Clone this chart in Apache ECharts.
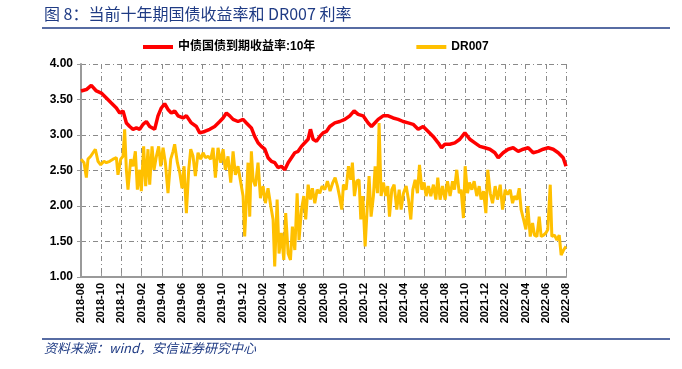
<!DOCTYPE html>
<html>
<head>
<meta charset="utf-8">
<script src="https://cdn.jsdelivr.net/npm/echarts@6/dist/echarts.min.js"></script>
<style>
html,body{margin:0;padding:0;background:#fff;}
#charts{width:682px;height:369px;}
</style>
</head>
<body>
<div id="charts"></div>
<script>
// 月份偏移(自2018-08起)
var startYear = 2018, startMonth = 8;

// 中债国债到期收益率:10年
var redX = [0.00,0.53,1.02,1.52,2.01,2.51,3.00,3.50,3.83,4.16,4.49,4.82,5.15,5.48,5.81,6.14,6.47,6.80,7.29,7.62,7.95,8.28,8.61,8.94,9.27,9.60,10.10,10.43,10.92,11.42,11.75,
	12.24,12.74,13.23,13.73,14.06,14.39,14.72,15.05,15.54,16.04,16.37,16.86,17.19,17.52,17.85,18.19,18.51,18.84,19.18,19.50,19.83,20.17,20.50,20.83,21.16,21.49,21.82,22.15,22.48,22.71,22.97,23.30,23.63,23.96,
	24.29,24.62,25.12,25.61,26.11,26.60,27.03,27.43,27.92,28.42,28.75,29.08,29.41,29.90,30.40,30.89,31.39,31.88,32.38,32.87,33.37,33.86,34.36,34.85,35.35,35.68,
	36.01,36.50,37.00,37.49,37.99,38.48,38.98,39.47,39.97,40.46,40.96,41.29,41.78,42.28,42.77,43.27,43.76,44.26,44.75,45.25,45.74,46.24,46.73,47.23,47.72,48.00];
var redY = [3.62,3.64,3.70,3.62,3.59,3.52,3.45,3.38,3.31,3.34,3.17,3.12,3.08,3.10,3.08,3.15,3.19,3.12,3.08,3.27,3.38,3.44,3.36,3.31,3.34,3.27,3.24,3.27,3.17,3.12,3.03,
	3.05,3.08,3.12,3.19,3.24,3.31,3.27,3.22,3.19,3.22,3.17,3.10,2.98,2.89,2.84,2.80,2.68,2.63,2.61,2.54,2.56,2.51,2.61,2.68,2.75,2.77,2.84,2.89,2.94,3.08,2.94,2.91,2.98,3.03,
	3.05,3.12,3.17,3.19,3.22,3.27,3.34,3.29,3.27,3.17,3.12,3.17,3.22,3.27,3.27,3.24,3.22,3.19,3.17,3.15,3.08,3.12,3.05,2.98,2.89,2.82,
	2.87,2.87,2.89,2.94,3.03,2.94,2.89,2.84,2.82,2.80,2.75,2.68,2.75,2.80,2.82,2.77,2.80,2.82,2.75,2.77,2.80,2.82,2.80,2.75,2.68,2.56];

// DR007
var drX = [0.00,0.30,0.53,0.69,0.96,1.19,1.42,1.68,1.95,2.28,2.51,2.84,3.17,3.50,3.66,3.93,4.16,4.32,4.49,4.65,4.92,5.15,5.38,5.58,5.81,5.97,6.20,6.40,6.63,6.80,7.03,7.23,7.46,7.69,7.89,8.12,8.35,8.61,8.88,9.11,9.27,9.54,9.77,
	10.00,10.20,10.43,10.66,10.86,11.09,11.32,11.58,11.85,12.08,12.31,12.57,12.84,13.07,13.30,13.56,13.83,14.06,14.29,14.55,14.82,15.05,15.28,15.54,15.81,16.04,16.20,16.37,16.53,16.70,16.86,17.03,17.26,17.52,17.76,
	18.02,18.25,18.51,18.78,19.01,19.17,19.41,19.60,19.83,20.07,20.26,20.50,20.73,20.92,21.16,21.39,21.58,21.82,22.05,22.24,22.48,22.71,22.90,23.14,23.37,23.63,23.86,24.13,
	24.39,24.65,24.92,25.15,25.38,25.58,25.81,25.97,26.24,26.47,26.70,26.86,27.06,27.29,27.52,27.69,27.89,28.12,28.28,28.51,28.71,28.94,29.11,29.34,29.50,29.70,29.93,
	30.17,30.36,30.53,30.76,30.99,31.25,31.49,31.68,31.91,32.18,32.41,32.64,32.84,33.07,33.30,33.50,33.73,33.96,34.16,34.39,34.62,34.88,35.12,35.31,35.54,35.78,
	36.04,36.27,36.53,36.77,36.96,37.19,37.43,37.62,37.85,38.02,38.25,38.45,38.68,38.91,39.17,39.41,39.60,39.84,40.07,40.26,40.50,40.73,40.99,41.22,41.49,41.72,41.98,
	42.21,42.48,42.71,42.90,43.14,43.37,43.56,43.80,44.03,44.22,44.46,44.69,44.88,45.12,45.35,45.54,45.78,46.01,46.20,46.44,46.60,46.86,47.10,47.33,47.52,47.76,48.00];
var drY = [2.66,2.61,2.40,2.66,2.70,2.75,2.80,2.63,2.58,2.63,2.61,2.63,2.66,2.68,2.44,2.66,2.70,3.08,2.51,2.23,2.66,2.56,2.77,2.23,2.51,2.21,2.84,2.28,2.80,2.30,2.84,2.51,2.70,2.84,2.56,2.82,2.61,2.18,2.66,2.77,2.87,2.61,2.47,
	2.25,2.56,1.90,2.51,2.80,2.70,2.42,2.75,2.66,2.75,2.68,2.70,2.66,2.82,2.40,2.82,2.61,2.80,2.51,2.70,2.33,2.77,2.44,2.56,2.33,2.14,1.57,2.09,2.61,1.85,2.77,2.37,2.28,2.61,2.11,
	2.28,2.04,2.25,2.00,1.81,1.15,2.09,1.33,1.62,1.24,1.90,1.33,1.24,1.71,1.38,2.18,1.52,1.95,2.14,1.81,2.30,2.09,2.25,2.04,2.23,2.18,2.28,2.23,
	2.35,2.21,2.33,2.40,2.28,2.14,1.95,2.30,2.23,2.56,2.37,2.61,2.14,2.35,2.37,1.81,2.14,1.43,1.85,2.42,1.85,2.14,2.56,2.18,3.17,2.14,2.33,
	2.14,2.28,1.85,2.23,2.30,1.95,2.23,1.95,2.18,2.28,2.09,1.81,2.23,2.37,2.18,2.58,2.23,2.33,2.14,2.28,2.14,2.30,2.09,2.40,2.09,2.28,
	2.09,2.35,2.14,2.35,2.23,2.51,2.18,2.23,1.83,2.56,2.18,2.33,2.23,2.35,2.14,2.28,2.09,2.21,1.90,2.51,2.18,2.04,2.28,2.09,2.30,1.95,2.23,
	2.16,2.23,2.04,2.14,2.09,2.25,1.95,1.81,1.67,2.00,1.57,1.76,1.59,1.57,1.85,1.57,1.59,1.62,1.67,2.30,1.57,1.59,1.52,1.59,1.31,1.38,1.43];

var fontLatin = '"Liberation Sans", Arial, "Noto Sans CJK SC", sans-serif';
var blue = '#1f3b84';

function toPairs(xs, ys){
	var arr = [];
	for(var i = 0; i < xs.length; i++){
		arr.push([xs[i], ys[i]]);
	}
	return arr;
}

//月份偏移 -> YYYY-MM
function monthLabel(v){
	var m = startMonth - 1 + Math.round(v);
	var y = startYear + Math.floor(m / 12);
	var mm = m % 12 + 1;
	return y + '-' + (mm < 10 ? '0' + mm : mm);
}

var charts = echarts.init(document.getElementById('charts'));
var option = {
	animation: false,
	textStyle: { fontFamily: fontLatin },
	grid: { left: 81, right: 116, top: 64, bottom: 92 },
	legend: {
		left: 138,
		top: 36,
		itemWidth: 30,
		itemHeight: 4,
		itemGap: 101,
		icon: 'rect',
		textStyle: { fontSize: 12, fontWeight: 'bold', color: '#000', fontFamily: fontLatin },
		data: ['中债国债到期收益率:10年', 'DR007']
	},
	xAxis: {
		type: 'value',
		min: 0,
		max: 48,
		interval: 2,
		axisLine: { show: true, lineStyle: { color: '#9a9a9a', width: 2 } },
		axisTick: { show: true, inside: true, length: 4, lineStyle: { color: '#9a9a9a' } },
		axisLabel: {
			rotate: 90,
			fontSize: 11,
			fontWeight: 'bold',
			color: '#000',
			margin: 6,
			formatter: monthLabel
		},
		splitLine: { show: true, lineStyle: { color: '#8a8a8a', width: 1, type: [5, 3, 1, 3] } }
	},
	yAxis: {
		type: 'value',
		min: 1,
		max: 4,
		interval: 0.5,
		axisLine: { show: true, lineStyle: { color: '#9a9a9a', width: 2 } },
		axisTick: { show: true, length: 4, lineStyle: { color: '#9a9a9a' } },
		axisLabel: {
			fontSize: 12,
			fontWeight: 'bold',
			color: '#000',
			margin: 8,
			formatter: function(v){ return v.toFixed(2); }
		},
		splitLine: { show: true, lineStyle: { color: '#8a8a8a', width: 1, type: [5, 3, 1, 3] } }
	},
	series: [{
		name: '中债国债到期收益率:10年',
		type: 'line',
		showSymbol: false,
		symbol: 'none',
		itemStyle: { color: '#ff0000' },
		lineStyle: { color: '#ff0000', width: 3.5 },
		data: toPairs(redX, redY)
	}, {
		name: 'DR007',
		type: 'line',
		showSymbol: false,
		symbol: 'none',
		itemStyle: { color: '#ffc000' },
		lineStyle: { color: '#ffc000', width: 3 },
		data: toPairs(drX, drY)
	}],
	graphic: [{
		type: 'text',
		left: 44,
		top: 6,
		style: {
			text: '图 8：当前十年期国债收益率和 DR007 利率',
			fontSize: 16,
			fill: blue,
			fontFamily: '"Noto Sans CJK SC", sans-serif'
		}
	}, {
		type: 'line',
		shape: { x1: 42, y1: 28, x2: 670, y2: 28 },
		style: { stroke: blue, lineWidth: 1.5 }
	}, {
		type: 'line',
		shape: { x1: 42, y1: 339, x2: 670, y2: 339 },
		style: { stroke: blue, lineWidth: 1.5 }
	}, {
		type: 'text',
		left: 44,
		top: 342,
		style: {
			text: '资料来源：wind，安信证券研究中心',
			fontSize: 13,
			fontStyle: 'italic',
			fill: blue,
			fontFamily: '"Noto Sans CJK SC", sans-serif'
		}
	}]
};
charts.setOption(option);
</script>
</body>
</html>
